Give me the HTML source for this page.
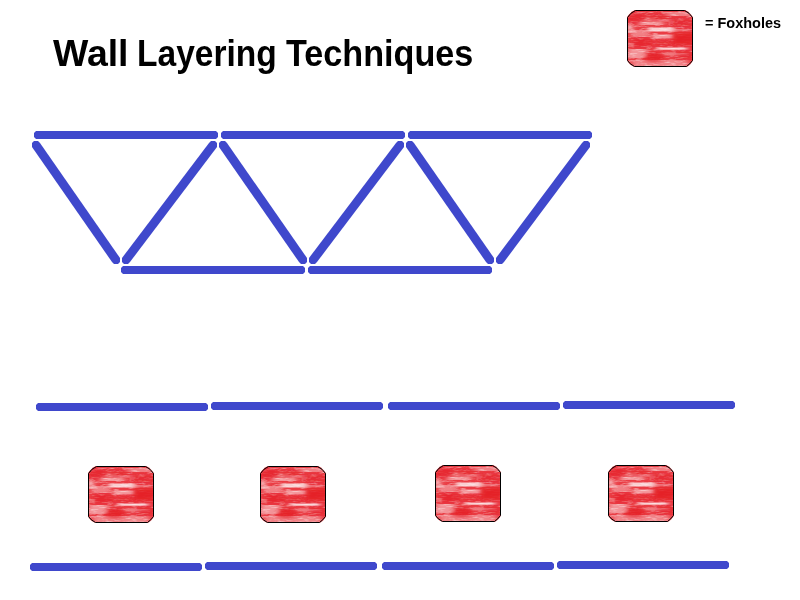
<!DOCTYPE html>
<html><head><meta charset="utf-8"><style>
html,body{margin:0;padding:0;background:#fff;width:800px;height:600px;overflow:hidden}
svg{position:absolute;left:0;top:0}
.t{position:absolute;font-family:"Liberation Sans",sans-serif;font-weight:bold;color:#000;white-space:nowrap;line-height:1}
</style></head><body>
<svg width="800" height="600" viewBox="0 0 800 600">
<defs>
<filter id="bl" x="-30%" y="-100%" width="160%" height="300%"><feGaussianBlur stdDeviation="2.5 0.7"/></filter>
<filter id="bl2" x="-30%" y="-50%" width="160%" height="200%"><feGaussianBlur stdDeviation="2.5 2"/></filter>
<filter id="nz" x="0" y="0" width="100%" height="100%" filterUnits="userSpaceOnUse">
<feTurbulence type="fractalNoise" baseFrequency="0.12 0.8" numOctaves="3" seed="11" result="n"/>
<feColorMatrix in="n" type="matrix" values="0 0 0 0 1  0 0 0 0 1  0 0 0 0 1  0 0 0 2.2 -1.05"/>
</filter>
<clipPath id="cp"><path d="M8,0 H58 Q63,2 66,7.5 V50 Q64,55 59.5,57 H7.5 Q2,55 0,50 V7.5 Q3,2 8,0 Z"/></clipPath>
<g id="fox">
<g clip-path="url(#cp)">
<rect x="0" y="0" width="66" height="57" fill="#ea3d45"/>
<rect x="0" y="0" width="66" height="57" filter="url(#nz)" opacity="0.6"/>
<g filter="url(#bl)" fill="#fff">
<rect x="21" y="17.5" width="26" height="4" opacity="0.75"/>
<rect x="12" y="12" width="24" height="3" opacity="0.45"/>
<rect x="25" y="24.5" width="22" height="4" opacity="0.5"/>
<rect x="30" y="37.5" width="30" height="2.2" opacity="0.85"/>
<rect x="1" y="39" width="19" height="9" opacity="0.45"/>
<rect x="0" y="15" width="6" height="8" opacity="0.5"/>
<rect x="38" y="2" width="26" height="4" opacity="0.35"/>
<rect x="5" y="50" width="56" height="6" opacity="0.35"/>
<rect x="47" y="19" width="14" height="2.5" opacity="0.35"/>
<rect x="36" y="43" width="24" height="2.5" opacity="0.3"/>
<rect x="4" y="20" width="18" height="7" opacity="0.35"/>
<rect x="14" y="9" width="30" height="3" opacity="0.25"/>
</g>
<g filter="url(#bl2)" fill="#e41c24">
<rect x="46" y="22" width="22" height="13" opacity="0.9"/>
<ellipse cx="27" cy="47" rx="10" ry="4.5" opacity="0.9"/>
<rect x="6" y="29" width="20" height="7" opacity="0.75"/>
<rect x="-2" y="4" width="20" height="7" opacity="0.7"/>
<rect x="22" y="5" width="20" height="5" opacity="0.5"/>
<rect x="29" y="30" width="16" height="6" opacity="0.6"/>
<rect x="50" y="41" width="16" height="8" opacity="0.5"/>
<rect x="46" y="9" width="20" height="7" opacity="0.5"/>
</g>
</g>
<path d="M8.5,0.5 H57.5 Q62.5,2.5 65.5,7.5 V50.5 Q63,54 59.5,56.5 H7.5 Q2.5,54 0.5,50.5 V7.5 Q3.5,2.5 8.5,0.5 Z" fill="none" stroke="#000" stroke-width="1"/>
</g>
</defs>
<g fill="#3f48cc">
<polygon points="34,133 36,131 216,131 218,133 218,137 216,139 36,139 34,137"/>
<polygon points="221,133 223,131 403,131 405,133 405,137 403,139 223,139 221,137"/>
<polygon points="408,133 410,131 590,131 592,133 592,137 590,139 410,139 408,137"/>
<polygon points="121,268 123,266 303,266 305,268 305,272 303,274 123,274 121,272"/>
<polygon points="308,268 310,266 490,266 492,268 492,272 490,274 310,274 308,272"/>
<polygon points="32,143 34,141 38,141 40,143 120,258 120,262 118,264 114,264 112,262 32,147"/>
<polygon points="122,258 209,143 211,141 215,141 217,143 217,147 130,262 128,264 124,264 122,262"/>
<polygon points="219,143 221,141 225,141 227,143 307,258 307,262 305,264 301,264 299,262 219,147"/>
<polygon points="309,258 396,143 398,141 402,141 404,143 404,147 317,262 315,264 311,264 309,262"/>
<polygon points="406,143 408,141 412,141 414,143 494,258 494,262 492,264 488,264 486,262 406,147"/>
<polygon points="496,258 582,143 584,141 588,141 590,143 590,147 504,262 502,264 498,264 496,262"/>
<polygon points="36,405 38,403 206,403 208,405 208,409 206,411 38,411 36,409"/>
<polygon points="211,404 213,402 381,402 383,404 383,408 381,410 213,410 211,408"/>
<polygon points="388,404 390,402 558,402 560,404 560,408 558,410 390,410 388,408"/>
<polygon points="563,403 565,401 733,401 735,403 735,407 733,409 565,409 563,407"/>
<polygon points="30,565 32,563 200,563 202,565 202,569 200,571 32,571 30,569"/>
<polygon points="205,564 207,562 375,562 377,564 377,568 375,570 207,570 205,568"/>
<polygon points="382,564 384,562 552,562 554,564 554,568 552,570 384,570 382,568"/>
<polygon points="557,563 559,561 727,561 729,563 729,567 727,569 559,569 557,567"/>
</g>
<use href="#fox" x="627" y="10"/>
<use href="#fox" x="88" y="466"/>
<use href="#fox" x="260" y="466"/>
<use href="#fox" x="435" y="465"/>
<use href="#fox" x="608" y="465"/>
</svg>
<div class="t" id="w1" style="left:52.5px;top:36px;font-size:36px;transform:scaleX(1.039);transform-origin:0 0">Wall</div>
<div class="t" id="w2" style="left:137.2px;top:36px;font-size:36px;transform:scaleX(0.9315);transform-origin:0 0">Layering</div>
<div class="t" id="w3" style="left:285.6px;top:36px;font-size:36px;transform:scaleX(0.949);transform-origin:0 0">Techniques</div>
<div class="t" id="fx" style="left:705.3px;top:15px;font-size:15px;transform:scaleX(0.9656);transform-origin:0 0">= Foxholes</div>
</body></html>
